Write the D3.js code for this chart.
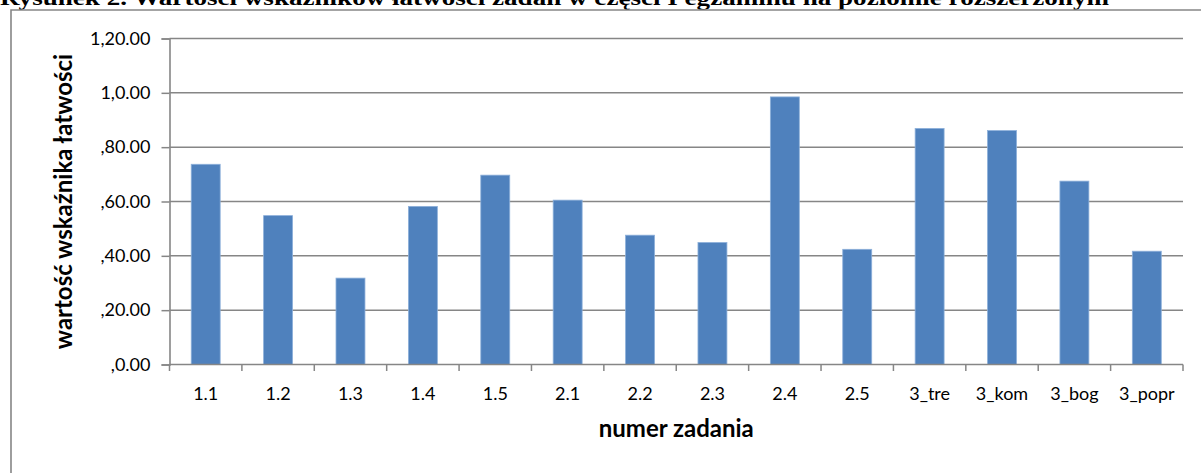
<!DOCTYPE html>
<html>
<head>
<meta charset="utf-8">
<script src="https://cdn.jsdelivr.net/npm/d3@7"></script>
<style>
  body { margin: 0; background: #fff; }
  svg { display: block; }
</style>
</head>
<body>
<div id="chart"></div>
<script>
// Data
const categories = ["1.1", "1.2", "1.3", "1.4", "1.5", "2.1", "2.2", "2.3", "2.4", "2.5", "3_tre", "3_kom", "3_bog", "3_popr"];
const values = [0.737, 0.548, 0.318, 0.582, 0.697, 0.605, 0.476, 0.449, 0.985, 0.424, 0.869, 0.861, 0.675, 0.417];
const yTickValues = [0, 0.2, 0.4, 0.6, 0.8, 1.0, 1.2];
const yTickLabels = [",0.00", ",20.00", ",40.00", ",60.00", ",80.00", "1,0.00", "1,20.00"];

const figureTitle = "Rysunek 2. Wartości wskaźników łatwości zadań w części I egzaminu na poziomie rozszerzonym";
const yTitle = "wartość wskaźnika łatwości";
const xTitle = "numer zadania";

// Dimensions
const container_dimensions = (width = 1201, height = 473) => ({ width, height });
const margins = (top = 38.5, bottom = 108.5, left = 169.5, right = 18) => ({ top, bottom, left, right });
const plot_dimensions = (c, m) => ({
  container_dimensions: c,
  margins: m,
  width: c.width - m.left - m.right,
  height: c.height - m.top - m.bottom,
});
const dims = plot_dimensions(container_dimensions(), margins());

const gridColor = "#868686";
const barColor = "#4f81bd";
const labelFont = "Lato, 'Open Sans', sans-serif";

const root = d3
  .select("#chart")
  .append("svg")
  .attr("width", dims.container_dimensions.width)
  .attr("height", dims.container_dimensions.height);

// Figure caption (cut by the top edge in the original)
root
  .append("text")
  .attr("x", 0)
  .attr("y", 5)
  .attr("textLength", 1109)
  .attr("lengthAdjust", "spacingAndGlyphs")
  .style("font-family", "'Liberation Serif', 'Times New Roman', serif")
  .style("font-weight", "bold")
  .style("font-size", "22px")
  .text(figureTitle);

// Chart frame
root
  .append("path")
  .attr("d", "M11,480V10H1205")
  .attr("fill", "none")
  .attr("stroke", gridColor)
  .attr("stroke-width", 1.6);

const svg = root
  .append("g")
  .attr("transform", "translate(" + dims.margins.left + "," + dims.margins.top + ")");

// Scales
const x = d3.scaleBand().domain(categories).range([0, dims.width]).paddingInner(0).paddingOuter(0);
const y = d3.scaleLinear().domain([0, 1.2]).range([dims.height, 0]);

// Gridlines
svg
  .append("g")
  .attr("class", "grid")
  .selectAll("line")
  .data(yTickValues.slice(1))
  .join("line")
  .attr("x1", 0)
  .attr("x2", dims.width)
  .attr("y1", (d) => y(d))
  .attr("y2", (d) => y(d))
  .attr("stroke", gridColor)
  .attr("stroke-width", 1.5);

// Bars (gap width 150%)
const barW = x.bandwidth() / 2.5;
svg
  .append("g")
  .selectAll("rect")
  .data(categories)
  .join("rect")
  .attr("x", (d) => x(d) + (x.bandwidth() - barW) / 2)
  .attr("y", (d, i) => y(values[i]))
  .attr("width", barW)
  .attr("height", (d, i) => dims.height - y(values[i]))
  .attr("fill", barColor)
  .attr("stroke", "#8db0da")
  .attr("stroke-width", 0.8);

// Y axis
const yAxis = svg
  .append("g")
  .attr("class", "yAxis")
  .call(
    d3
      .axisLeft(y)
      .tickValues(yTickValues)
      .tickSize(8)
      .tickPadding(11)
      .tickFormat((d, i) => yTickLabels[i])
  );

// X axis: ticks on category boundaries
const boundaries = d3.range(categories.length + 1).map((i) => i * x.step());
const xAxis = svg.append("g").attr("class", "xAxis").attr("transform", "translate(0," + dims.height + ")");
xAxis
  .append("line")
  .attr("x1", 0)
  .attr("x2", dims.width)
  .attr("stroke", gridColor)
  .attr("stroke-width", 1.6);
xAxis
  .selectAll("line.tick")
  .data(boundaries)
  .join("line")
  .attr("class", "tick")
  .attr("x1", (d) => d)
  .attr("x2", (d) => d)
  .attr("y1", 0)
  .attr("y2", 6.5)
  .attr("stroke", gridColor)
  .attr("stroke-width", 1.5);
xAxis
  .selectAll("text")
  .data(categories)
  .join("text")
  .attr("x", (d) => x(d) + x.bandwidth() / 2)
  .attr("y", 35)
  .attr("text-anchor", "middle")
  .style("font-family", labelFont)
  .style("font-size", "18px")
  .attr("fill", "#000")
  .text((d) => d);

yAxis.select(".domain").attr("stroke", gridColor).attr("stroke-width", 1.6);
yAxis.selectAll(".tick line").attr("stroke", gridColor).attr("stroke-width", 1.5);
yAxis
  .selectAll(".tick text")
  .style("font-family", labelFont)
  .style("font-size", "18px")
  .attr("fill", "#000");

// Axis titles
svg
  .append("text")
  .attr("x", dims.width / 2)
  .attr("y", dims.height + 72)
  .attr("text-anchor", "middle")
  .style("font-family", labelFont)
  .style("font-weight", "bold")
  .style("font-size", "24px")
  .text(xTitle);

svg
  .append("text")
  .attr("transform", "rotate(-90)")
  .attr("x", 0 - dims.height / 2)
  .attr("y", 0 - dims.margins.left + 72)
  .attr("text-anchor", "middle")
  .style("font-family", labelFont)
  .style("font-weight", "bold")
  .style("font-size", "24px")
  .text(yTitle);
</script>
</body>
</html>
